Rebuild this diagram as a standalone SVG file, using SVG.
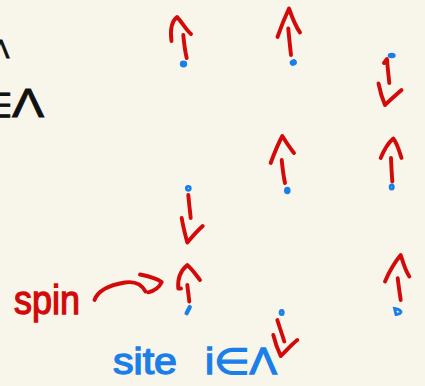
<svg xmlns="http://www.w3.org/2000/svg" width="425" height="386" viewBox="0 0 425 386">
  <style>
    .spin { fill: none; stroke: #d20a0a; stroke-width: 3.9; stroke-linecap: round; stroke-linejoin: round; }
    .site { fill: #1a7fe8; stroke: #1a7fe8; stroke-width: 2; }
    .dash { fill: none; stroke: #1a7fe8; stroke-width: 4.2; stroke-linecap: round; }
    .ring { fill: none; stroke: #1a7fe8; stroke-width: 2.8; }
    .red-label { font-family: "Liberation Sans", sans-serif; fill: #d20a0a; stroke: #d20a0a; stroke-width: 1.3; }
    .blue-label { font-family: "Liberation Sans", sans-serif; fill: #1a7fe8; stroke: #1a7fe8; stroke-width: 1.3; }
    .ink { font-family: "Liberation Sans", sans-serif; fill: #111; stroke: #111; stroke-width: 0.9; }
  </style>

  <rect width="425" height="386" fill="#f8f5ea"/>

  <!-- lattice symbol at the left edge -->
  <g id="lambda-top">
    <text class="ink" x="-8" y="58" font-size="26">Λ</text>
  </g>
  <g id="lambda-mid">
    <text class="ink" x="-17" y="117" font-size="34">∈</text>
    <text class="ink" x="12" y="117" font-size="40" transform="translate(12 117) scale(1.2 1) translate(-12 -117)">Λ</text>
  </g>

  <!-- row 1 -->
  <g id="spin-1">
    <path class="spin" d="M171.5 41 C170 30 172 21 177 17 C182 22 186 30 191 34"/>
    <path class="spin" d="M183.3 35 C184 43 185 51 186.7 58"/>
    <ellipse class="site" cx="183.5" cy="64" rx="2.7" ry="2.4"/>
  </g>
  <g id="spin-2">
    <path class="spin" d="M277.5 37 C281 27 285 17 289 8.5 C292 17 296 27 300 32.5"/>
    <path class="spin" d="M288.3 28.5 C289 37 290 46 291 55"/>
    <ellipse class="site" cx="293.3" cy="62.5" rx="2.7" ry="2.2" transform="rotate(-30 293.3 62.5)"/>
  </g>
  <g id="spin-3">
    <ellipse class="site" cx="391.7" cy="55.5" rx="3" ry="1.8"/>
    <path class="spin" d="M384 63 L387 59 C387.5 67 388.5 75 389.3 83"/>
    <path class="spin" d="M378.5 83.5 C380 91 382 98 385 105 C390 100 396 95 401.5 90"/>
  </g>

  <!-- row 2 -->
  <g id="spin-4">
    <path class="spin" d="M270.7 163 C274 154 278 144 282.3 136 C286 142 290 148 294 153"/>
    <path class="spin" d="M281.7 160 C282.5 168 283.5 176 285 183"/>
    <ellipse class="site" cx="287.3" cy="190.5" rx="2.3" ry="2.8"/>
  </g>
  <g id="spin-5">
    <path class="spin" d="M380.7 158 C384 150 388 143 393.3 138.5 C397 143 399 150 401.5 158"/>
    <path class="spin" d="M391 158 C391.3 166 391.8 174 392.3 181.5"/>
    <ellipse class="ring" cx="391.7" cy="187" rx="1.6" ry="2.2"/>
  </g>
  <g id="spin-6">
    <circle class="ring" cx="188.3" cy="188.3" r="2"/>
    <path class="spin" d="M188.3 195 C189 203 190 211 190.7 218"/>
    <path class="spin" d="M181.7 218 C183 226 185 234 187.3 242.5 C192 237 197 231 202.7 226"/>
  </g>

  <!-- row 3 -->
  <g id="spin-7">
    <path class="spin" d="M181 288.5 L178.3 288.5 C177.5 280 179 272 187.3 265 C192 269 196 275 200 280"/>
    <path class="spin" d="M187.3 285 C188 291 188.7 296 189.3 301.5"/>
    <path class="dash" d="M186.6 313.2 L189.8 307"/>
  </g>
  <g id="spin-8">
    <ellipse class="ring" cx="281.7" cy="312.5" rx="1.6" ry="2.2"/>
    <path class="spin" d="M277.3 320 C279.5 327 282 334 284.3 341.5"/>
    <path class="spin" d="M273.3 335 C275 342 277.5 349 280.7 356 C286 351 291 345 297.3 340"/>
  </g>
  <g id="spin-9">
    <path class="spin" d="M385 281.5 C389 272 395 262 400.7 255 C403 262 405 270 409.3 276.5"/>
    <path class="spin" d="M397.7 278.3 C398.5 285 399.5 292 400.7 300"/>
    <path class="ring" d="M394.5 308.5 L396 314.5 C399 314.5 401.5 313 401 311.5 C399.5 309.5 397 308.8 394.5 308.5 Z"/>
  </g>

  <!-- labels -->
  <g id="label-spin">
    <text class="red-label" x="14" y="314" font-size="40" textLength="66" lengthAdjust="spacingAndGlyphs">spin</text>
  </g>
  <g id="label-site">
    <text class="blue-label" x="113" y="374" font-size="36" textLength="64" lengthAdjust="spacingAndGlyphs">site</text>
    <text class="blue-label" x="205" y="374" font-size="36" textLength="72" lengthAdjust="spacingAndGlyphs">i∈Λ</text>
  </g>

  <!-- pointer from the spin label to a lattice arrow -->
  <g id="connectors">
    <path class="spin" d="M94.5 300 C98 290 110 285 125 282.5 C135 281 142 285 145.5 291.5"/>
    <path class="spin" d="M140 274.5 C148 276 156 278 161.7 282 C159 288 154 291 148.3 292.3"/>
  </g>
</svg>
